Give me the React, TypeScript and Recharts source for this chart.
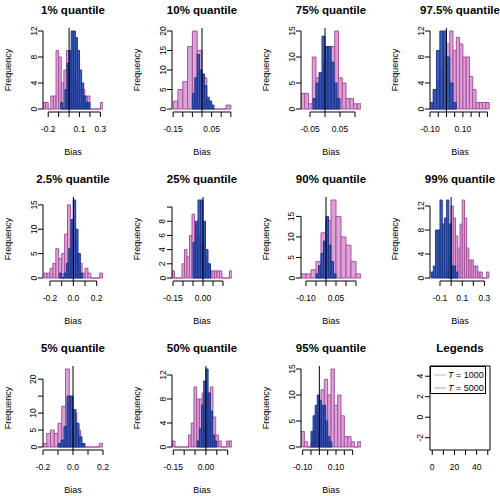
import React from "react";
import {
  BarChart, Bar, XAxis, YAxis, ReferenceLine, ReferenceArea,
  LineChart, Line, Legend, Label,
} from "recharts";

// histogram counts (pink = T 1000, blue = T 5000)
const q01Pink = [1, 1, 0, 2, 2, 9, 8, 4, 6, 9, 6, 5, 4, 4, 3, 3, 2, 2, 0, 0, 0, 0, 1];
const q01Blue = [1, 0, 3, 7, 9, 12, 12, 11, 9, 6, 4, 2, 1, 1];
const q10Pink = [2, 5, 7, 16, 20, 15, 8, 2, 0, 0, 0, 1];
const q10Blue = [4, 8, 14, 10, 9, 6, 3, 2, 1];
const q75Pink = [3, 3, 1, 10, 6, 6, 9, 12, 12, 15, 6, 5, 2, 2, 1, 1];
const q75Blue = [2, 5, 7, 14, 12, 12, 9, 5, 2];
const q975Pink = [1, 3, 4, 6, 8, 10, 12, 9, 11, 10, 8, 8, 5, 3, 1, 1, 1, 1];
const q975Blue = [1, 3, 9, 12, 12, 8, 4, 1];
const q025Pink = [1, 1, 2, 3, 6, 4, 5, 9, 15, 10, 8, 5, 3, 1, 2, 1, 0, 0, 0, 1];
const q025Blue = [1, 0, 1, 3, 6, 12, 16, 10, 5, 1];
const q25Pink = [1, 0, 0, 0, 2, 4, 3, 6, 9, 7, 6, 5, 5, 3, 2, 1, 1, 1, 1, 1, 0, 0, 0, 1];
const q25Blue = [5, 8, 11, 11, 8, 4, 2];
const q90Pink = [1, 1, 2, 4, 11, 14, 19, 15, 10, 8, 4, 1];
const q90Blue = [1, 3, 6, 9, 15, 8, 4, 1];
const q99Pink = [1, 4, 12, 10, 7, 5, 9, 13, 10, 5, 3, 3, 2, 2, 1, 1, 0, 0, 1];
const q99Blue = [1, 2, 8, 8, 13, 9, 10, 13, 9, 2, 2, 1];
const q05Pink = [1, 4, 5, 4, 7, 12, 23, 15, 10, 5, 1, 0, 0, 0, 0, 1];
const q05Blue = [1, 2, 6, 15, 15, 11, 7, 3, 1];
const q50Pink = [1, 0, 0, 0, 0, 0, 2, 4, 10, 8, 8, 9, 8, 9, 10, 5, 2, 1, 0, 0, 1, 1];
const q50Blue = [1, 3, 7, 11, 13, 9, 6, 2, 1];
const q95Pink = [3, 1, 0, 1, 3, 6, 11, 13, 10, 15, 8, 10, 6, 2, 2, 1, 0, 1];
const q95Blue = [3, 6, 8, 10, 9, 8, 8, 5, 2, 1];

const legendNames = ["T = 1000", "T = 5000"];
const legendRows: { t: number; a: number; b: number }[] = [];

const FONT = '"Liberation Sans", Arial, Helvetica, sans-serif';
const PINK = "#dba3d6";
const PINK_EDGE = "#a8509e";
const BLUE = "#2247a8";
const BLUE_EDGE = "#1a378f";

// one panel = 129 x 169, plot area 43..103 x 28..112
const PW = 129;
const PH = 169;
const MARGIN = { top: 28, right: 26, bottom: 27, left: 13 };
const X_AX_H = 30;
const Y_AX_W = 30;
const PLOT_W = PW - MARGIN.left - MARGIN.right - Y_AX_W;

type Panel = {
  title: string;
  pink: number[]; pinkFrom: number; pinkStep: number;
  blue: number[]; blueFrom: number; blueStep: number;
  xDomain: [number, number]; xTicks: number[]; xShown: number[]; xDec: number;
  yMax: number; yTicks: number[]; yShown: number[];
};

const panels: Panel[] = [
  { title: "1% quantile", pink: q01Pink, pinkFrom: -0.25, pinkStep: 0.025, blue: q01Blue, blueFrom: -0.08, blueStep: 0.02,
    xDomain: [-0.25, 0.325], xTicks: [-0.2, -0.1, 0, 0.1, 0.2, 0.3], xShown: [-0.2, 0.1, 0.3], xDec: 1,
    yMax: 12, yTicks: [0, 4, 8, 12], yShown: [0, 4, 8, 12] },
  { title: "10% quantile", pink: q10Pink, pinkFrom: -0.15, pinkStep: 0.025, blue: q10Blue, blueFrom: -0.05, blueStep: 0.0125,
    xDomain: [-0.156, 0.156], xTicks: [-0.15, -0.1, -0.05, 0, 0.05, 0.1, 0.15], xShown: [-0.15, 0.05], xDec: 2,
    yMax: 20, yTicks: [0, 5, 10, 15, 20], yShown: [0, 5, 10, 15, 20] },
  { title: "75% quantile", pink: q75Pink, pinkFrom: -0.08, pinkStep: 0.0125, blue: q75Blue, blueFrom: -0.04, blueStep: 0.01,
    xDomain: [-0.08, 0.12], xTicks: [-0.05, 0, 0.05, 0.1], xShown: [-0.05, 0.05], xDec: 2,
    yMax: 15, yTicks: [0, 5, 10, 15], yShown: [0, 5, 10, 15] },
  { title: "97.5% quantile", pink: q975Pink, pinkFrom: -0.1, pinkStep: 0.02, blue: q975Blue, blueFrom: -0.1, blueStep: 0.02,
    xDomain: [-0.1, 0.265], xTicks: [-0.1, -0.05, 0, 0.05, 0.1, 0.15, 0.2, 0.25], xShown: [-0.1, 0.1], xDec: 2,
    yMax: 12, yTicks: [0, 4, 8, 12], yShown: [0, 4, 8, 12] },
  { title: "2.5% quantile", pink: q025Pink, pinkFrom: -0.25, pinkStep: 0.025, blue: q025Blue, blueFrom: -0.12, blueStep: 0.02,
    xDomain: [-0.26, 0.254], xTicks: [-0.2, -0.1, 0, 0.1, 0.2], xShown: [-0.2, 0, 0.2], xDec: 1,
    yMax: 16, yTicks: [0, 5, 10, 15], yShown: [0, 5, 10, 15] },
  { title: "25% quantile", pink: q25Pink, pinkFrom: -0.155, pinkStep: 0.0125, blue: q25Blue, blueFrom: -0.05, blueStep: 0.0125,
    xDomain: [-0.155, 0.145], xTicks: [-0.15, -0.1, -0.05, 0, 0.05, 0.1], xShown: [-0.15, 0], xDec: 2,
    yMax: 11, yTicks: [0, 2, 4, 6, 8, 10], yShown: [0, 2, 4, 6, 8] },
  { title: "90% quantile", pink: q90Pink, pinkFrom: -0.125, pinkStep: 0.025, blue: q90Blue, blueFrom: -0.05, blueStep: 0.0125,
    xDomain: [-0.125, 0.175], xTicks: [-0.1, -0.05, 0, 0.05, 0.1, 0.15], xShown: [-0.1, 0.05], xDec: 2,
    yMax: 19, yTicks: [0, 5, 10, 15], yShown: [0, 5, 10, 15] },
  { title: "99% quantile", pink: q99Pink, pinkFrom: -0.04, pinkStep: 0.02, blue: q99Blue, blueFrom: -0.18, blueStep: 0.02,
    xDomain: [-0.19, 0.35], xTicks: [-0.1, 0, 0.1, 0.2, 0.3], xShown: [-0.1, 0.1, 0.3], xDec: 1,
    yMax: 13, yTicks: [0, 4, 8, 12], yShown: [0, 4, 8, 12] },
  { title: "5% quantile", pink: q05Pink, pinkFrom: -0.2, pinkStep: 0.025, blue: q05Blue, blueFrom: -0.1, blueStep: 0.02,
    xDomain: [-0.2, 0.2], xTicks: [-0.2, -0.1, 0, 0.1, 0.2], xShown: [-0.2, 0, 0.2], xDec: 1,
    yMax: 23, yTicks: [0, 5, 10, 15, 20], yShown: [0, 5, 10, 20] },
  { title: "50% quantile", pink: q50Pink, pinkFrom: -0.155, pinkStep: 0.0125, blue: q50Blue, blueFrom: -0.04, blueStep: 0.01,
    xDomain: [-0.156, 0.12], xTicks: [-0.15, -0.1, -0.05, 0, 0.05, 0.1], xShown: [-0.15, 0], xDec: 2,
    yMax: 13, yTicks: [0, 4, 8, 12], yShown: [0, 4, 8, 12] },
  { title: "95% quantile", pink: q95Pink, pinkFrom: -0.11, pinkStep: 0.02, blue: q95Blue, blueFrom: -0.05, blueStep: 0.0125,
    xDomain: [-0.11, 0.25], xTicks: [-0.1, -0.05, 0, 0.05, 0.1, 0.15, 0.2], xShown: [-0.1, 0.1], xDec: 2,
    yMax: 15, yTicks: [0, 5, 10, 15], yShown: [0, 5, 10, 15] },
];

const toBins = (counts: number[], from: number, step: number) =>
  counts.map((n, i) => ({ mid: from + (i + 0.5) * step, n }));

// R-style y range: 4% padding around [0, max]
const yDom = (m: number): [number, number] => [(-m * 3) / 78, (m * 81) / 78];

// bar width = bin width on the x scale (recharts floors its own band width)
const binPx = (step: number, d: [number, number]) => (step * PLOT_W) / (d[1] - d[0]) - 0.001;

// draws zero-count bins as a flat line, like hist() does
const HistRect = (props: any) => {
  const { x, y, width, height, fill, stroke, fillOpacity } = props;
  if (x == null || Number.isNaN(x) || y == null) return <g />;
  return (
    <path d={`M${x},${y}h${width}v${height}h${-width}Z`}
      fill={fill} fillOpacity={fillOpacity} stroke={stroke} strokeWidth={1} />
  );
};

function makeXTick(shown: number[], dec: number) {
  return (props: any) => {
    const { x, y, payload } = props;
    const v = payload.value as number;
    if (!shown.some((s) => Math.abs(s - v) < 1e-9)) return <g />;
    return (
      <text x={x} y={y + 13} textAnchor="middle" fontSize={8.5} fontFamily={FONT} fill="#000">
        {v.toFixed(dec)}
      </text>
    );
  };
}

function makeYTick(shown: number[]) {
  return (props: any) => {
    const { x, y, payload } = props;
    const v = payload.value as number;
    if (!shown.includes(v)) return <g />;
    const cx = x - 2.5;
    return (
      <text x={cx} y={y} transform={`rotate(-90 ${cx} ${y})`} textAnchor="middle"
        dominantBaseline="central" fontSize={8.5} fontFamily={FONT} fill="#000">
        {v}
      </text>
    );
  };
}

function panelText(title: string, axisTitles: boolean) {
  return () => (
    <g fontFamily={FONT} fill="#000">
      <text x={73} y={14} textAnchor="middle" fontSize={11.5} fontWeight="bold">{title}</text>
      {axisTitles && <text x={73} y={155} textAnchor="middle" fontSize={9}>Bias</text>}
      {axisTitles && (
        <text x={7.5} y={70} transform="rotate(-90 7.5 70)" textAnchor="middle"
          dominantBaseline="central" fontSize={9}>Frequency</text>
      )}
    </g>
  );
}

const layer: React.CSSProperties = { position: "absolute", left: 0, top: 0 };

function HistPanel({ p }: { p: Panel }) {
  const yD = yDom(p.yMax);
  const pinkData = toBins(p.pink, p.pinkFrom, p.pinkStep);
  const blueData = toBins(p.blue, p.blueFrom, p.blueStep);
  const xt = p.xTicks;
  const yt = p.yTicks;
  return (
    <>
      {/* T = 1000, with the axes */}
      <div style={layer}>
        <BarChart width={PW} height={PH} data={pinkData} margin={MARGIN} barCategoryGap={0} barGap={0}>
          <XAxis type="number" dataKey="mid" domain={p.xDomain} allowDataOverflow ticks={xt} interval={0}
            height={X_AX_H} axisLine={false} stroke="#000" tickSize={5} tick={makeXTick(p.xShown, p.xDec)}>
            <Label content={panelText(p.title, true)} />
          </XAxis>
          <YAxis type="number" domain={yD} allowDataOverflow ticks={yt} interval={0}
            width={Y_AX_W} axisLine={false} stroke="#000" tickSize={5} tick={makeYTick(p.yShown)} />
          <Bar dataKey="n" fill={PINK} stroke={PINK_EDGE} shape={HistRect}
            barSize={binPx(p.pinkStep, p.xDomain)} isAnimationActive={false} />
          <ReferenceLine segment={[{ x: xt[0], y: yD[0] }, { x: xt[xt.length - 1], y: yD[0] }]}
            stroke="#000" ifOverflow="visible" />
          <ReferenceLine segment={[{ x: p.xDomain[0], y: yt[0] }, { x: p.xDomain[0], y: yt[yt.length - 1] }]}
            stroke="#000" ifOverflow="visible" />
        </BarChart>
      </div>
      {/* T = 5000 on top */}
      <div style={layer}>
        <BarChart width={PW} height={PH} data={blueData} margin={MARGIN} barCategoryGap={0} barGap={0}>
          <XAxis type="number" dataKey="mid" domain={p.xDomain} allowDataOverflow height={X_AX_H}
            tick={false} tickLine={false} axisLine={false} />
          <YAxis type="number" domain={yD} allowDataOverflow width={Y_AX_W}
            tick={false} tickLine={false} axisLine={false} />
          <Bar dataKey="n" fill={BLUE} fillOpacity={0.85} stroke={BLUE_EDGE} shape={HistRect}
            barSize={binPx(p.blueStep, p.xDomain)} isAnimationActive={false} />
          <ReferenceLine x={0} stroke="#000" strokeWidth={1} />
        </BarChart>
      </div>
    </>
  );
}

function LegendBox({ payload }: any) {
  return (
    <div style={{ width: 56, height: 28, border: "1px solid #000", boxSizing: "border-box",
      background: "#fff", fontFamily: FONT, fontSize: 9, color: "#000", paddingTop: 1 }}>
      {(payload || []).map((e: any, i: number) => {
        const name = String(e.value);
        return (
          <div key={i} style={{ display: "flex", alignItems: "center", height: 13 }}>
            <svg width={14} height={4} style={{ marginLeft: 2 }}>
              <line x1={1} x2={13} y1={2} y2={2} stroke={e.color} strokeWidth={1.2} />
            </svg>
            <span style={{ marginLeft: 1, whiteSpace: "nowrap" }}>
              <i>{name.slice(0, 1)}</i>{name.slice(1)}
            </span>
          </div>
        );
      })}
    </div>
  );
}

function LegendPanel() {
  const xD: [number, number] = [-2, 52];
  const yD: [number, number] = [-3.2, 5];
  return (
    <div style={layer}>
      <LineChart width={PW} height={PH} data={legendRows} margin={MARGIN}>
        <XAxis type="number" dataKey="t" domain={xD} allowDataOverflow ticks={[0, 10, 20, 30, 40, 50]}
          interval={0} height={X_AX_H} axisLine={false} stroke="#000" tickSize={5}
          tick={makeXTick([0, 20, 40], 0)}>
          <Label content={panelText("Legends", false)} />
        </XAxis>
        <YAxis type="number" domain={yD} allowDataOverflow ticks={[-2, 0, 2, 4]} interval={0}
          width={Y_AX_W} axisLine={false} stroke="#000" tickSize={5} tick={makeYTick([-2, 0, 2, 4])} />
        <ReferenceArea x1={xD[0]} x2={xD[1]} y1={yD[0]} y2={yD[1]} fill="none" fillOpacity={0}
          stroke="#000" strokeWidth={1} ifOverflow="visible" />
        <Line dataKey="a" name={legendNames[0]} stroke="#e2aede" isAnimationActive={false} />
        <Line dataKey="b" name={legendNames[1]} stroke="#a9b2c8" isAnimationActive={false} />
        <Legend content={LegendBox} layout="vertical" align="center" verticalAlign="middle"
          wrapperStyle={{ left: 43, top: 28, width: 56, height: 28 }} />
      </LineChart>
    </div>
  );
}

export default function App() {
  return (
    <div style={{ position: "absolute", left: 0, top: 0, width: 500, height: 496,
      overflow: "hidden", background: "#fff" }}>
      {panels.map((p, i) => (
        <div key={p.title} style={{ position: "absolute", left: (i % 4) * PW,
          top: Math.floor(i / 4) * PH, width: PW, height: PH }}>
          <HistPanel p={p} />
        </div>
      ))}
      <div style={{ position: "absolute", left: 3 * PW, top: 2 * PH, width: PW, height: PH }}>
        <LegendPanel />
      </div>
    </div>
  );
}
